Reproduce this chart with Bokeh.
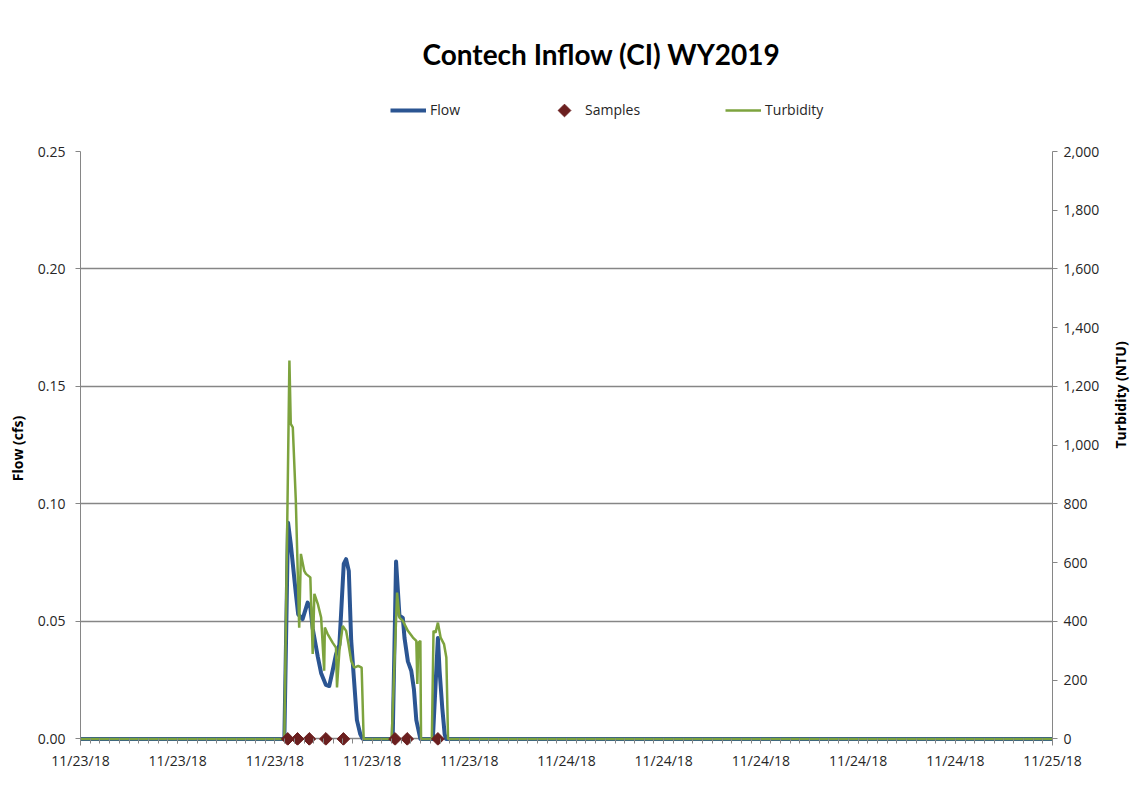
import math
import numpy as np
import pandas as pd
from bokeh.plotting import figure
from bokeh.layouts import column
from bokeh.models import (Range1d, LinearAxis, FixedTicker, NumeralTickFormatter,
                          DatetimeTickFormatter, Legend, LegendItem, Label)
from bokeh.embed import file_html
from bokeh.resources import INLINE

# ---------------- data ----------------
flow_time = [
    "2018-11-23 00:00", "2018-11-23 10:04", "2018-11-23 10:15", "2018-11-23 10:23",
    "2018-11-23 10:38", "2018-11-23 10:45", "2018-11-23 10:58", "2018-11-23 11:13",
    "2018-11-23 11:21", "2018-11-23 11:28", "2018-11-23 11:43", "2018-11-23 11:53",
    "2018-11-23 12:07", "2018-11-23 12:17", "2018-11-23 12:27", "2018-11-23 12:37",
    "2018-11-23 12:47", "2018-11-23 12:52", "2018-11-23 13:00", "2018-11-23 13:07",
    "2018-11-23 13:15", "2018-11-23 13:22", "2018-11-23 13:30", "2018-11-23 13:39",
    "2018-11-23 13:49", "2018-11-23 13:56",
    "2018-11-23 15:25", "2018-11-23 15:35", "2018-11-23 15:45", "2018-11-23 15:55",
    "2018-11-23 16:00", "2018-11-23 16:10", "2018-11-23 16:20", "2018-11-23 16:28",
    "2018-11-23 16:35", "2018-11-23 16:47",
    "2018-11-23 17:24", "2018-11-23 17:39", "2018-11-23 17:44", "2018-11-23 17:52",
    "2018-11-23 17:59", "2018-11-23 18:03",
    "2018-11-25 00:00",
]
flow_cfs = [
    0.0, 0.0, 0.092, 0.083,
    0.062, 0.053, 0.051, 0.058,
    0.056, 0.047, 0.035, 0.028,
    0.023, 0.0225, 0.029, 0.036,
    0.040, 0.053, 0.0745, 0.0765,
    0.0715, 0.042, 0.026, 0.008,
    0.002, 0.0,
    0.0, 0.0755, 0.0525, 0.0515,
    0.043, 0.033, 0.029, 0.021,
    0.008, 0.0,
    0.0, 0.043, 0.029, 0.013,
    0.002, 0.0,
    0.0,
]

turb_time = [
    "2018-11-23 00:00", "2018-11-23 10:04", "2018-11-23 10:19", "2018-11-23 10:23",
    "2018-11-23 10:29", "2018-11-23 10:38", "2018-11-23 10:48", "2018-11-23 10:53",
    "2018-11-23 11:03", "2018-11-23 11:08", "2018-11-23 11:21", "2018-11-23 11:28",
    "2018-11-23 11:33", "2018-11-23 11:43", "2018-11-23 11:53", "2018-11-23 12:02",
    "2018-11-23 12:04", "2018-11-23 12:12", "2018-11-23 12:27", "2018-11-23 12:37",
    "2018-11-23 12:40", "2018-11-23 12:47", "2018-11-23 12:57", "2018-11-23 13:07",
    "2018-11-23 13:14", "2018-11-23 13:22", "2018-11-23 13:31", "2018-11-23 13:43",
    "2018-11-23 13:53", "2018-11-23 13:59",
    "2018-11-23 15:22", "2018-11-23 15:38", "2018-11-23 15:45", "2018-11-23 15:55",
    "2018-11-23 16:10", "2018-11-23 16:25", "2018-11-23 16:35", "2018-11-23 16:38",
    "2018-11-23 16:41", "2018-11-23 16:47", "2018-11-23 16:49",
    "2018-11-23 17:21", "2018-11-23 17:26", "2018-11-23 17:32", "2018-11-23 17:39",
    "2018-11-23 17:47", "2018-11-23 17:57", "2018-11-23 18:04", "2018-11-23 18:09",
    "2018-11-25 00:00",
]
turb_ntu = [
    0, 0, 1288, 1073,
    1061, 811, 379, 630,
    572, 562, 550, 289,
    494, 460, 413, 232,
    379, 358, 328, 311,
    175, 300, 385, 368,
    323, 266, 243, 249,
    243, 0,
    0, 498, 413, 402,
    368, 345, 334, 187,
    328, 334, 0,
    0, 368, 362, 396,
    345, 323, 277, 0,
    0,
]

sample_time = [
    "2018-11-23 10:14", "2018-11-23 10:43", "2018-11-23 11:18", "2018-11-23 12:07",
    "2018-11-23 12:59", "2018-11-23 15:32", "2018-11-23 16:08", "2018-11-23 17:39",
]
sample_flow = [0, 0, 0, 0, 0, 0, 0, 0]

series_names = ["Flow", "Samples", "Turbidity"]
chart_title = "Contech Inflow (CI) WY2019"

x_start = "2018-11-23 00:00"
x_end = "2018-11-25 00:00"
x_major_ticks = [
    "2018-11-23 00:00", "2018-11-23 04:48", "2018-11-23 09:36", "2018-11-23 14:24",
    "2018-11-23 19:12", "2018-11-24 00:00", "2018-11-24 04:48", "2018-11-24 09:36",
    "2018-11-24 14:24", "2018-11-24 19:12", "2018-11-25 00:00",
]
flow_ticks = [0.0, 0.05, 0.10, 0.15, 0.20, 0.25]
turb_ticks = [0, 200, 400, 600, 800, 1000, 1200, 1400, 1600, 1800, 2000]


def to_ms(lst):
    return list(pd.DatetimeIndex(pd.to_datetime(lst)).as_unit("ns").asi8 // 10**6)


major_ms = to_ms(x_major_ticks)
minor_ms = to_ms(pd.date_range(x_start, x_end, freq="1728s"))

FONT = "Open Sans"
GRAY = "#868686"
TXT = "#262626"
C_FLOW = "#2B5592"
C_TURB = "#7DA33E"
C_SAMP = "#6B1F1F"

W = 1147
TOP_H = 131
BL, BR = 80, 95          # left / right borders shared by both figures

# ---------------- header (title + legend) ----------------
top = figure(width=W, height=TOP_H, x_range=Range1d(BL, W - BR), y_range=Range1d(0, TOP_H),
             output_backend="svg", toolbar_location=None,
             min_border_left=BL, min_border_right=BR, min_border_top=0, min_border_bottom=0,
             x_axis_location=None, y_axis_location=None,
             outline_line_color=None, background_fill_color="white",
             border_fill_color="white")
top.grid.visible = False
top.add_layout(Label(x=601, y=TOP_H - 53, text=chart_title, text_align="center",
                     text_baseline="middle", text_font="Lato", text_font_size="28px",
                     text_font_style="bold", text_color="black"))
# legend-key renderers (their single point lies outside the header's visible range)
d_flow = top.line(x=[0, 1], y=[-50, -50], line_color=C_FLOW, line_width=4)
d_samp = top.scatter(x=[0], y=[-50], marker="square", size=9,
                     fill_alpha=0, line_alpha=0)
d_turb = top.line(x=[0, 1], y=[-50, -50], line_color=C_TURB, line_width=2.5)
legend = Legend(items=[LegendItem(label=series_names[0], renderers=[d_flow]),
                       LegendItem(label=series_names[1], renderers=[d_samp]),
                       LegendItem(label=series_names[2], renderers=[d_turb])],
                location=(310, 12), orientation="horizontal",
                spacing=85, glyph_width=36, glyph_height=14, label_standoff=4,
                padding=0, margin=0, border_line_color=None,
                background_fill_alpha=0,
                label_text_font=FONT, label_text_font_size="14px",
                label_text_color=TXT)
top.add_layout(legend)
# diamond legend key for "Samples" (rotated square like the chart markers)
top.scatter(x=[564], y=[TOP_H - 110], marker="square", angle=math.pi / 4, size=9,
            fill_color=C_SAMP, line_color=C_SAMP)

# ---------------- main chart ----------------
y_low = -0.0028  # small room below zero so the sample markers are not cut
p = figure(width=W, height=787 - TOP_H, x_axis_type="datetime",
           x_range=Range1d(pd.Timestamp(x_start), pd.Timestamp(x_end)),
           y_range=Range1d(y_low, 0.25),
           output_backend="svg", toolbar_location=None,
           min_border_left=BL, min_border_right=BR, min_border_top=20,
           min_border_bottom=787 - TOP_H - 20 - 594,
           background_fill_color="white", border_fill_color="white",
           outline_line_color=None)
p.extra_y_ranges = {"turb": Range1d(y_low * 8000, 2000)}

r_flow = p.line(pd.to_datetime(flow_time), flow_cfs, line_color=C_FLOW,
                line_width=4, line_join="round")
r_turb = p.line(pd.to_datetime(turb_time), turb_ntu, y_range_name="turb",
                line_color=C_TURB, line_width=2.5)
r_samp = p.scatter(pd.to_datetime(sample_time), sample_flow, marker="square",
                   angle=math.pi / 4, size=9, fill_color=C_SAMP, line_color=C_SAMP)

xa = p.xaxis[0]
xa.ticker = FixedTicker(ticks=major_ms, minor_ticks=minor_ms)
fmt = "%m/%d/%y"
xa.formatter = DatetimeTickFormatter(microseconds=fmt, milliseconds=fmt, seconds=fmt,
                                     minsec=fmt, minutes=fmt, hourmin=fmt, hours=fmt,
                                     days=fmt, months=fmt, years=fmt)

ya = p.yaxis[0]
ya.ticker = FixedTicker(ticks=flow_ticks)
ya.formatter = NumeralTickFormatter(format="0.00")
ya.axis_label = "Flow (cfs)"

ra = LinearAxis(y_range_name="turb", ticker=FixedTicker(ticks=turb_ticks),
                formatter=NumeralTickFormatter(format="0,0"),
                axis_label="Turbidity (NTU)")
p.add_layout(ra, "right")

for ax in (xa, ya, ra):
    ax.axis_line_color = GRAY
    ax.axis_line_width = 1
    ax.major_tick_line_color = GRAY
    ax.minor_tick_line_color = GRAY
    ax.major_tick_in = 0
    ax.major_tick_out = 5
    ax.minor_tick_in = 0
    ax.minor_tick_out = 5
    ax.major_label_text_font = FONT
    ax.major_label_text_font_size = "14px"
    ax.major_label_text_color = TXT
    ax.axis_label_text_font = FONT
    ax.axis_label_text_font_size = "14px"
    ax.axis_label_text_font_style = "bold"
    ax.axis_label_text_color = "black"

# x axis drawn on the zero line (the zero grid line acts as the axis line)
xa.axis_line_color = None
xa.major_tick_in = 7
xa.major_tick_out = -2
xa.minor_tick_in = 7
xa.minor_tick_out = -2
xa.major_label_standoff = 7

ya.minor_tick_line_color = None
ra.minor_tick_line_color = None
ya.major_label_standoff = 10
ra.major_label_standoff = 6
ya.axis_label_standoff = 8
ra.axis_label_standoff = 18
if "axis_label_orientation" in ra.properties():
    ra.axis_label_orientation = math.pi / 2

p.xgrid.visible = False
p.ygrid.grid_line_color = GRAY
p.ygrid.grid_line_width = 1.5

layout = column(top, p, spacing=0)
open("out.html", "w").write(file_html(layout, INLINE))
